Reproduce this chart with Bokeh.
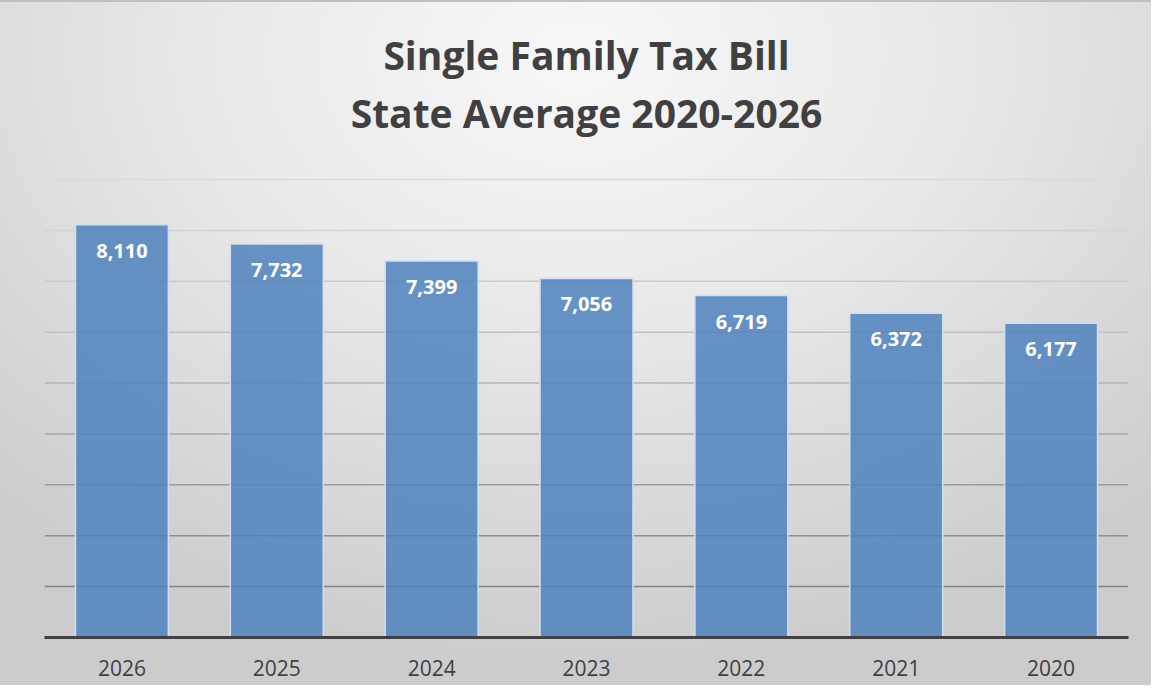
from bokeh.plotting import figure
from bokeh.models import ColumnDataSource, Span, FactorRange, Range1d
from bokeh.embed import file_html
from bokeh.resources import INLINE
from bokeh.core.properties import value

years = ["2026", "2025", "2024", "2023", "2022", "2021", "2020"]
tax_bill = [8110, 7732, 7399, 7056, 6719, 6372, 6177]
title_lines = ["Single Family Tax Bill", "State Average 2020-2026"]
grid_values = [1000, 2000, 3000, 4000, 5000, 6000, 7000, 8000, 9000]
grid_colors = ["#858585", "#909090", "#9c9c9c", "#a9a9a9", "#b5b5b5", "#c1c1c1", "#cbcbcb", "#d3d3d3", "#dadada"]

labels = ["{:,}".format(v) for v in tax_bill]
src = ColumnDataSource(dict(year=years, val=tax_bill, label=labels))

# layout (pixels): frame spans full height above the axis; 9000 sits 458px above the axis
H, BOTTOM = 685, 50
FRAME_H = H - BOTTOM
PER_PX = 9000 / 458.0
Y_TOP = FRAME_H * PER_PX

p = figure(width=1151, height=H, x_range=FactorRange(*years, range_padding=0),
           y_range=Range1d(0, Y_TOP), output_backend="svg", toolbar_location=None,
           min_border_left=44, min_border_right=23, min_border_top=0, min_border_bottom=BOTTOM)

p.styles = {"background": "radial-gradient(ellipse 75% 90% at 50% 8%, #f8f8f8 0%, #e8e8e8 45%, #d3d3d3 85%, #cccccc 100%)",
            "border-top": "2px solid #c0c0c0"}
p.background_fill_alpha = 0
p.border_fill_alpha = 0
p.outline_line_color = None

# title lines as text
title_y = [(FRAME_H - 52) * PER_PX, (FRAME_H - 110) * PER_PX]
p.text(x=[years[3], years[3]], y=title_y, text=title_lines, text_align="center",
       text_baseline="alphabetic", text_font=value("Open Sans"), text_font_size="39px",
       text_font_style="bold", text_color="#404040")

for gv, gc in zip(grid_values, grid_colors):
    p.add_layout(Span(location=gv, dimension="width", line_color=gc, line_width=1.5, level="underlay"))

p.vbar(x="year", top="val", width=0.6, source=src, fill_color="#4F81BD", fill_alpha=0.85,
       line_color="#d0deef", line_width=1.5)

p.text(x="year", y="val", text="label", source=src, text_align="center", text_baseline="middle",
       y_offset=26, text_color="white", text_font=value("Open Sans"), text_font_style="bold",
       text_font_size="20px")

p.xgrid.grid_line_color = None
p.ygrid.grid_line_color = None
p.yaxis.visible = False
p.xaxis.axis_line_color = "#404040"
p.xaxis.axis_line_width = 3
p.xaxis.major_tick_line_color = None
p.xaxis.minor_tick_line_color = None
p.xaxis.major_label_standoff = 16
p.xaxis.major_label_text_font = "Open Sans"
p.xaxis.major_label_text_font_size = "21px"
p.xaxis.major_label_text_color = "#404040"

open("out.html", "w").write(file_html(p, INLINE))
